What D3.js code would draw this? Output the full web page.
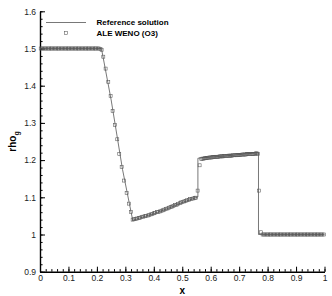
<!DOCTYPE html>
<html>
<head>
<meta charset="utf-8">
<script src="https://cdn.jsdelivr.net/npm/d3@7"></script>
<style>
  body { margin: 0; background: #fff; }
  svg { display: block; font-family: "Liberation Sans", Arial, sans-serif; }
  .axis path, .axis line { stroke: #000; }
  .axis text { fill: #222; font-size: 8.5px; }
</style>
</head>
<body>
<div id="chart"></div>
<script>
// reference solution (thin line)
var refX = [0, 0.216, 0.25, 0.29, 0.326, 0.35, 0.40, 0.45, 0.50, 0.555, 0.555, 0.60, 0.65, 0.70, 0.768, 0.768, 1.0];
var refY = [1.5, 1.5, 1.362, 1.175, 1.038, 1.044, 1.056, 1.070, 1.086, 1.101, 1.205, 1.208, 1.211, 1.215, 1.220, 1.0, 1.0];

// ALE WENO (O3) cell values
var aleX = [
  0.0025, 0.0075, 0.0125, 0.0175, 0.0225, 0.0275, 0.0325, 0.0375, 0.0425, 0.0475,
  0.0525, 0.0575, 0.0625, 0.0675, 0.0725, 0.0775, 0.0825, 0.0875, 0.0925, 0.0975,
  0.1025, 0.1075, 0.1125, 0.1175, 0.1225, 0.1275, 0.1325, 0.1375, 0.1425, 0.1475,
  0.1525, 0.1575, 0.1625, 0.1675, 0.1725, 0.1775, 0.1825, 0.1875, 0.1925, 0.1975,
  0.2025, 0.2075, 0.2125,
  0.2166, 0.2225, 0.2306, 0.2400, 0.2482, 0.2552, 0.2634, 0.2716, 0.2786, 0.2870,
  0.2950, 0.3045, 0.3126, 0.3196, 0.3256,
  0.331, 0.336, 0.341, 0.347, 0.352, 0.357, 0.363, 0.368, 0.373, 0.379,
  0.384, 0.389, 0.395, 0.400, 0.405, 0.411, 0.416, 0.421, 0.427, 0.432,
  0.437, 0.443, 0.448, 0.453, 0.459, 0.464, 0.469, 0.475, 0.480, 0.485,
  0.491, 0.496, 0.501, 0.507, 0.512, 0.517, 0.523, 0.528, 0.533, 0.539,
  0.544, 0.549,
  0.554, 0.561,
  0.567, 0.571, 0.575, 0.579, 0.583, 0.587, 0.591, 0.595, 0.599, 0.603,
  0.607, 0.611, 0.615, 0.619, 0.623, 0.627, 0.631, 0.635, 0.639, 0.643,
  0.647, 0.651, 0.655, 0.659, 0.663, 0.667, 0.671, 0.675, 0.679, 0.683,
  0.687, 0.691, 0.695, 0.699, 0.703, 0.707, 0.711, 0.715, 0.719, 0.723,
  0.727, 0.731, 0.735, 0.739, 0.743, 0.747, 0.751, 0.755, 0.759, 0.763,
  0.767, 0.770, 0.776,
  0.7825, 0.7875, 0.7925, 0.7975, 0.8025, 0.8075, 0.8125, 0.8175, 0.8225, 0.8275,
  0.8325, 0.8375, 0.8425, 0.8475, 0.8525, 0.8575, 0.8625, 0.8675, 0.8725, 0.8775,
  0.8825, 0.8875, 0.8925, 0.8975, 0.9025, 0.9075, 0.9125, 0.9175, 0.9225, 0.9275,
  0.9325, 0.9375, 0.9425, 0.9475, 0.9525, 0.9575, 0.9625, 0.9675, 0.9725, 0.9775,
  0.9825, 0.9875, 0.9925, 0.9975
];
var aleY = [
  1.5, 1.5, 1.5, 1.5, 1.5, 1.5, 1.5, 1.5, 1.5, 1.5,
  1.5, 1.5, 1.5, 1.5, 1.5, 1.5, 1.5, 1.5, 1.5, 1.5,
  1.5, 1.5, 1.5, 1.5, 1.5, 1.5, 1.5, 1.5, 1.5, 1.5,
  1.5, 1.5, 1.5, 1.5, 1.5, 1.5, 1.5, 1.5, 1.5, 1.5,
  1.5, 1.5, 1.499,
  1.496, 1.478, 1.446, 1.410, 1.372, 1.332, 1.294, 1.256, 1.217, 1.181,
  1.145, 1.112, 1.083, 1.060, 1.040,
  1.041, 1.042, 1.043, 1.044, 1.045, 1.047, 1.048, 1.049, 1.050, 1.051,
  1.053, 1.054, 1.055, 1.057, 1.058, 1.060, 1.061, 1.062, 1.064, 1.065,
  1.067, 1.069, 1.070, 1.072, 1.074, 1.075, 1.077, 1.079, 1.080, 1.082,
  1.084, 1.086, 1.087, 1.089, 1.090, 1.092, 1.093, 1.095, 1.096, 1.097,
  1.098, 1.099,
  1.118, 1.186,
  1.203, 1.204, 1.204, 1.205, 1.205, 1.206, 1.206, 1.207, 1.207, 1.207,
  1.208, 1.208, 1.208, 1.209, 1.209, 1.209, 1.210, 1.210, 1.210, 1.210,
  1.211, 1.211, 1.211, 1.211, 1.212, 1.212, 1.212, 1.212, 1.213, 1.213,
  1.213, 1.213, 1.214, 1.214, 1.214, 1.214, 1.215, 1.215, 1.215, 1.215,
  1.216, 1.216, 1.216, 1.216, 1.217, 1.217, 1.217, 1.217, 1.218, 1.218,
  1.216, 1.118, 1.006,
  1.0, 1.0, 1.0, 1.0, 1.0, 1.0, 1.0, 1.0, 1.0, 1.0,
  1.0, 1.0, 1.0, 1.0, 1.0, 1.0, 1.0, 1.0, 1.0, 1.0,
  1.0, 1.0, 1.0, 1.0, 1.0, 1.0, 1.0, 1.0, 1.0, 1.0,
  1.0, 1.0, 1.0, 1.0, 1.0, 1.0, 1.0, 1.0, 1.0, 1.0,
  1.0, 1.0, 1.0, 1.0
];

var xTicks = [0, 0.1, 0.2, 0.3, 0.4, 0.5, 0.6, 0.7, 0.8, 0.9, 1];
var xTickLabels = ["0", "0.1", "0.2", "0.3", "0.4", "0.5", "0.6", "0.7", "0.8", "0.9", "1"];
var yTicks = [0.9, 1.0, 1.1, 1.2, 1.3, 1.4, 1.5, 1.6];
var yTickLabels = ["0.9", "1", "1.1", "1.2", "1.3", "1.4", "1.5", "1.6"];
var legendNames = ["Reference solution", "ALE WENO (O3)"];

var width = 332, height = 296;
var plot = { left: 40, right: 324.5, top: 11.3, bottom: 271.7 };

var svg = d3.select("#chart")
    .append("svg")
    .attr("width", width)
    .attr("height", height);

var x = d3.scaleLinear().domain([0, 1]).range([plot.left, plot.right]);
var y = d3.scaleLinear().domain([0.9, 1.6]).range([plot.bottom, plot.top]);

// minor ticks first, then major ticks with labels
svg.append("g")
    .attr("class", "axis")
    .attr("transform", "translate(0," + plot.bottom + ")")
    .call(d3.axisBottom(x).ticks(50).tickSize(-2.6).tickSizeOuter(0).tickFormat(""))
    .call(function (g) { g.select(".domain").remove(); });

svg.append("g")
    .attr("class", "axis")
    .attr("transform", "translate(" + plot.left + ",0)")
    .call(d3.axisLeft(y).ticks(35).tickSize(-2.6).tickSizeOuter(0).tickFormat(""))
    .call(function (g) { g.select(".domain").remove(); });

var xAxis = svg.append("g")
    .attr("class", "axis")
    .attr("transform", "translate(0," + plot.bottom + ")")
    .call(d3.axisBottom(x)
        .tickValues(xTicks)
        .tickFormat(function (d, i) { return xTickLabels[i]; })
        .tickSize(-5)
        .tickSizeOuter(0)
        .tickPadding(3.5));

var yAxis = svg.append("g")
    .attr("class", "axis")
    .attr("transform", "translate(" + plot.left + ",0)")
    .call(d3.axisLeft(y)
        .tickValues(yTicks)
        .tickFormat(function (d, i) { return yTickLabels[i]; })
        .tickSize(-5)
        .tickSizeOuter(0)
        .tickPadding(4));

svg.selectAll(".axis line").attr("stroke-width", 1);
svg.selectAll(".axis .domain").attr("stroke-width", 1.4);

// reference line
var refData = refX.map(function (d, i) { return [d, refY[i]]; });
svg.append("path")
    .datum(refData)
    .attr("fill", "none")
    .attr("stroke", "#555")
    .attr("stroke-width", 0.8)
    .attr("d", d3.line()
        .x(function (d) { return x(d[0]); })
        .y(function (d) { return y(d[1]); }));

// ALE markers
var aleData = aleX.map(function (d, i) { return [d, aleY[i]]; });
var ms = 3;
svg.append("g")
    .selectAll("rect")
    .data(aleData)
    .enter()
    .append("rect")
    .attr("x", function (d) { return x(d[0]) - ms / 2; })
    .attr("y", function (d) { return y(d[1]) - ms / 2; })
    .attr("width", ms)
    .attr("height", ms)
    .attr("fill", "none")
    .attr("stroke", "#555")
    .attr("stroke-width", 0.55);

// legend
var legend = svg.append("g").attr("font-size", "8px").attr("font-weight", "bold");
legend.append("line")
    .attr("x1", 46).attr("x2", 86)
    .attr("y1", 22.5).attr("y2", 22.5)
    .attr("stroke", "#555")
    .attr("stroke-width", 0.8);
legend.append("rect")
    .attr("x", 66 - ms / 2).attr("y", 33 - ms / 2)
    .attr("width", ms).attr("height", ms)
    .attr("fill", "none")
    .attr("stroke", "#555")
    .attr("stroke-width", 0.55);
legend.selectAll("text")
    .data(legendNames)
    .enter()
    .append("text")
    .attr("x", 96.5)
    .attr("y", function (d, i) { return 25.3 + i * 10.6; })
    .attr("fill", "#000")
    .text(function (d) { return d; });

// axis titles
svg.append("text")
    .attr("x", (plot.left + plot.right) / 2)
    .attr("y", 294)
    .attr("text-anchor", "middle")
    .attr("font-size", "10px")
    .attr("font-weight", "bold")
    .text("x");

var yTitle = svg.append("text")
    .attr("transform", "translate(16," + (plot.top + plot.bottom) / 2 + ") rotate(-90)")
    .attr("text-anchor", "middle")
    .attr("font-size", "10px")
    .attr("font-weight", "bold");
yTitle.append("tspan").text("rho");
yTitle.append("tspan").attr("font-size", "7px").attr("dy", 2.5).text("g");
</script>
</body>
</html>
